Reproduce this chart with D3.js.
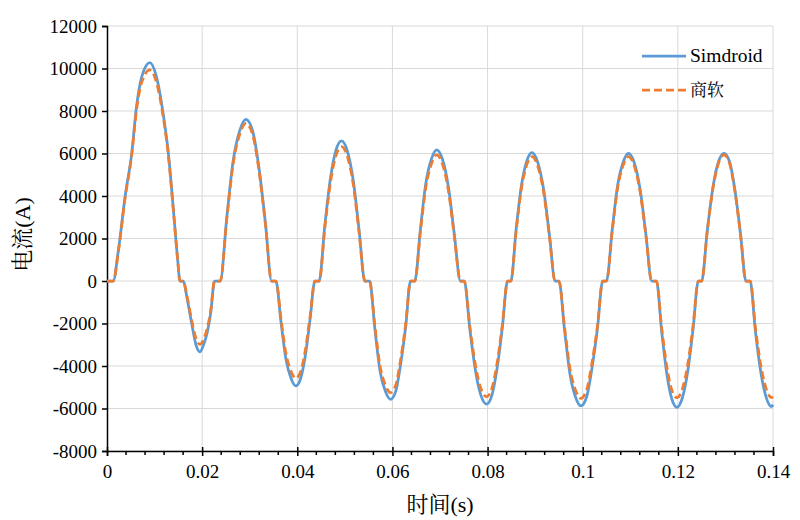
<!DOCTYPE html>
<html><head><meta charset="utf-8">
<script src="https://cdn.jsdelivr.net/npm/d3@7"></script>
<style>body{margin:0;background:#fff}svg{display:block}</style>
</head><body><svg id="c" width="800" height="520" font-family="Liberation Serif"></svg>
<script>
const xTicks = [0,0.02,0.04,0.06,0.08,0.1,0.12,0.14];
const xTickLabels = ["0","0.02","0.04","0.06","0.08","0.1","0.12","0.14"];
const yTicks = [-8000,-6000,-4000,-2000,0,2000,4000,6000,8000,10000,12000];
const yTickLabels = ["-8000","-6000","-4000","-2000","0","2000","4000","6000","8000","10000","12000"];
const seriesNames = ["Simdroid","商软"];

const time = [
0,0.0013,0.0024,0.0038,0.0052,0.0062,0.0073,0.0090,0.0104,0.0118,0.0129,0.0139,0.0148,0.01535,
0.0160,0.0169,0.0178,0.0187,0.01955,0.0203,0.0211,0.0218,0.0226,
0.0238,0.0252,0.0265,0.0279,0.0292,0.0306,0.0319,0.0333,0.0346,
0.0355,0.0366,0.0376,0.0387,0.0397,0.0407,0.0417,0.0427,0.0437,
0.0446,0.0458,0.0470,0.0481,0.0493,0.0505,0.0518,0.0530,0.0542,
0.0552,0.0563,0.0574,0.0585,0.0596,0.0607,0.0617,0.0628,0.0638,
0.0647,0.0659,0.0670,0.0682,0.0693,0.0705,0.0718,0.0730,0.0743,
0.0751,0.0763,0.0775,0.0786,0.0798,0.0809,0.0820,0.0831,0.0842,
0.0849,0.0860,0.0871,0.0882,0.0893,0.0905,0.0918,0.0930,0.0942,
0.0950,0.0962,0.0973,0.0985,0.0996,0.1008,0.1019,0.1031,0.1042,
0.1050,0.1062,0.1073,0.1085,0.1096,0.1108,0.1121,0.1133,0.1145,
0.1155,0.1166,0.1177,0.1187,0.1198,0.1209,0.1221,0.1232,0.1243,
0.1250,0.1262,0.1274,0.1285,0.1297,0.1309,0.1320,0.1332,0.1343,
0.1352,0.1363,0.1375,0.1386,0.1397,0.1400
];

const simdroid = [
0,0,1460,3970,6010,8200,9610,10280,9610,7890,6010,3500,1145,0,
0,-900,-2000,-3000,-3330,-3000,-2400,-1500,0,
0,3040,5630,7080,7610,7080,5400,2740,0,
0,-1980,-3660,-4590,-4940,-4590,-3510,-1780,0,
0,2640,4880,6130,6590,6130,4680,2370,0,
0,-2230,-4250,-5180,-5570,-5180,-3950,-2120,0,
0,2470,4570,5740,6170,5740,4380,2220,0,
0,-2320,-4280,-5380,-5790,-5380,-4110,-2200,0,
0,2420,4470,5620,6040,5620,4290,2170,0,
0,-2350,-4350,-5470,-5880,-5470,-4170,-2230,0,
0,2400,4450,5590,6010,5590,4270,2160,0,
0,-2380,-4400,-5530,-5945,-5530,-4220,-2260,0,
0,2400,4450,5590,6010,5590,4270,2160,0,
0,-2370,-4380,-5500,-5915,-5820
];

const shangruan = [
0,0,1400,3900,5950,8050,9350,9930,9350,7750,5900,3450,1150,0,
0,-800,-1850,-2700,-2980,-2750,-2200,-1400,0,
0,2970,5490,6900,7420,6900,5270,2670,0,
0,-1830,-3390,-4260,-4580,-4260,-3250,-1650,0,
0,2530,4680,5880,6320,5880,4490,2280,0,
0,-2100,-4000,-4890,-5255,-4890,-3730,-2000,0,
0,2370,4390,5510,5930,5510,4210,2130,0,
0,-2180,-4030,-5060,-5443,-5060,-3860,-2070,0,
0,2340,4330,5440,5850,5440,4150,2110,0,
0,-2210,-4090,-5140,-5522,-5140,-3920,-2100,0,
0,2340,4330,5440,5850,5440,4150,2110,0,
0,-2200,-4060,-5110,-5490,-5110,-3900,-2090,0,
0,2370,4390,5510,5930,5510,4210,2130,0,
0,-2190,-4050,-5090,-5480,-5450
];

const W = 800, H = 520;
const m = {left:107, right:27, top:26, bottom:69};
const svg = d3.select("#c");
const x = d3.scaleLinear().domain([0,0.14]).range([m.left, W-m.right]);
const y = d3.scaleLinear().domain([-8000,12000]).range([H-m.bottom, m.top]);
const LAT = "Liberation Serif";
const CJK = "Noto Serif CJK SC";
function font(sel, fam, size){
  return sel.attr("font-family", fam).attr("font-size", size)
    .style("font-family", '"'+fam+'"').style("font-size", size+"px");
}

// gridlines
const g = svg.append("g");
g.selectAll(".hg").data(yTicks).enter().append("line")
  .attr("x1", m.left).attr("x2", W-m.right)
  .attr("y1", d=>y(d)).attr("y2", d=>y(d))
  .attr("stroke","#d9d9d9").attr("stroke-width",1);
g.selectAll(".vg").data(xTicks.slice(1)).enter().append("line")
  .attr("x1", d=>x(d)).attr("x2", d=>x(d))
  .attr("y1", m.top).attr("y2", H-m.bottom)
  .attr("stroke","#d9d9d9").attr("stroke-width",1);

// axes
const xAxis = d3.axisBottom(x).tickValues(xTicks).tickSize(5)
  .tickFormat((d,i)=>xTickLabels[i]);
const xa = svg.append("g").attr("transform",`translate(0,${H-m.bottom})`).call(xAxis);
font(xa, LAT, 19);
xa.select(".domain").attr("stroke","#000").attr("stroke-width",1.5);
xa.selectAll(".tick line").attr("stroke","#000").attr("stroke-width",1.5).attr("y1",-4);
font(xa.selectAll(".tick text"), LAT, 19).attr("fill","#000").attr("dy","1.0em");
// minor ticks
const minor = d3.range(0, 36).map(i=>i*0.004).filter(v=>v<=0.1400001 && Math.abs(v/0.02-Math.round(v/0.02))>1e-6);
svg.append("g").selectAll("line").data(minor).enter().append("line")
  .attr("x1",d=>x(d)).attr("x2",d=>x(d))
  .attr("y1",H-m.bottom).attr("y2",H-m.bottom+4)
  .attr("stroke","#000").attr("stroke-width",1.5);

const yAxis = d3.axisLeft(y).tickValues(yTicks).tickSize(5)
  .tickFormat((d,i)=>yTickLabels[i]);
const ya = svg.append("g").attr("transform",`translate(${m.left},0)`).call(yAxis);
font(ya, LAT, 19);
ya.select(".domain").attr("stroke","#000").attr("stroke-width",1.5);
ya.selectAll(".tick line").attr("stroke","#000").attr("stroke-width",1.5);
font(ya.selectAll(".tick text"), LAT, 19).attr("fill","#000").attr("x",-10);

// lines
const data1 = time.map((t,i)=>[t, simdroid[i]]);
const data2 = time.map((t,i)=>[t, shangruan[i]]);
const line = d3.line().x(d=>x(d[0])).y(d=>y(d[1])).curve(d3.curveMonotoneX);
svg.append("path").datum(data1).attr("d",line).attr("fill","none")
  .attr("stroke","#5B9BD5").attr("stroke-width",2.75).attr("stroke-linejoin","round");
svg.append("path").datum(data2).attr("d",line).attr("fill","none")
  .attr("stroke","#ED7D31").attr("stroke-width",2.75).attr("stroke-dasharray","8,4");

// legend
const lg = svg.append("g");
lg.append("line").attr("x1",642).attr("x2",686).attr("y1",56).attr("y2",56)
  .attr("stroke","#5B9BD5").attr("stroke-width",2.75);
font(lg.append("text").attr("x",690).attr("y",62).text(seriesNames[0]), LAT, 19.5);
lg.append("line").attr("x1",642).attr("x2",686).attr("y1",90).attr("y2",90)
  .attr("stroke","#ED7D31").attr("stroke-width",2.75).attr("stroke-dasharray","8,4");
font(lg.append("text").attr("x",690).attr("y",96).text(seriesNames[1]), CJK, 17);

// axis titles (CJK part + Latin part)
const xt = svg.append("text").attr("x", (m.left + W - m.right)/2).attr("y", 512)
  .attr("text-anchor","middle");
font(xt, LAT, 22);
font(xt.append("tspan"), CJK, 22).text("时间");
font(xt.append("tspan"), LAT, 22).text("(s)");
const yt = svg.append("text").attr("transform",`translate(30,${(m.top+H-m.bottom)/2 - 4}) rotate(-90)`)
  .attr("text-anchor","middle");
font(yt, LAT, 22);
font(yt.append("tspan"), CJK, 22).text("电流");
font(yt.append("tspan"), LAT, 22).text("(A)");
</script></body></html>
